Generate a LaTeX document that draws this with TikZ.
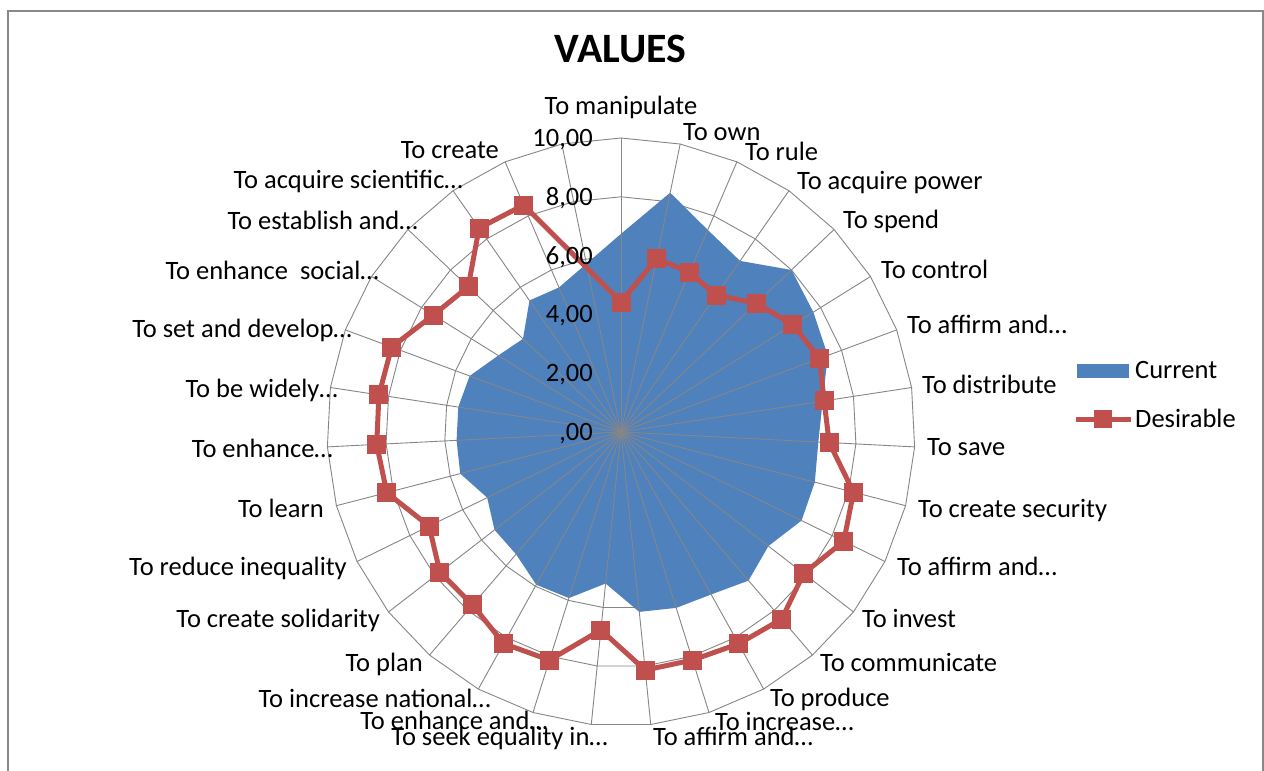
\documentclass[tikz,border=0pt]{standalone}
\usepackage{fontspec}
\setmainfont{Carlito}
\definecolor{curblue}{HTML}{4F81BD}
\definecolor{desred}{HTML}{C0504D}
\definecolor{gridgray}{HTML}{868686}
\definecolor{framegray}{HTML}{898989}
\tikzset{
  gridline/.style={draw=gridgray, line width=0.9pt},
  spoke/.style={draw=gridgray, line width=0.9pt},
  curfill/.style={fill=curblue},
  desline/.style={draw=desred, line width=5pt, line join=round},
  mk/.style={rectangle, fill=desred, minimum size=19pt, inner sep=0pt},
  lbl/.style={font=\fontsize{26.5}{30}\selectfont, inner sep=0pt, text=black},
  lblR/.style={lbl, anchor=base west},
  lblL/.style={lbl, anchor=base east},
  framebox/.style={draw=framegray, line width=2.5pt},
  titlestyle/.style={font=\fontsize{41.8}{46}\selectfont\bfseries, inner sep=0pt, anchor=base},
}
\begin{document}
\begin{tikzpicture}[x=1pt,y=1pt]
\useasboundingbox (0,0) rectangle (1264,-771);
\clip (0,0) rectangle (1264,-771);
\fill[white] (0,0) rectangle (1264,-771);
\draw[framebox] (8,-11) rectangle (1262.8,-800);

% title
\node[titlestyle] (title) at (620.5,-62) {VALUES};

\begin{scope}[shift={(621,-432)}]
  % rings
  \foreach \r in {58.8,117.6,176.4,235.2,294}{
    \draw[gridline] (90:\r) \foreach \k in {1,...,30}{ -- ({90-\k*360/31}:\r) } -- cycle;
  }
  % current series (filled)
  \fill[curfill] (90:6.74*29.4)
    \foreach \v [count=\k from 1] in {8.31,7.48,7.09,8.00,7.71,7.50,6.94,6.72,6.81,6.84,6.34,6.66,6.32,6.27,6.15,5.18,5.92,5.94,5.48,5.44,5.07,5.65,5.60,5.60,5.49,4.92,4.60,5.45,5.35}{ -- ({90-\k*360/31}:\v*29.4) } -- cycle;
  % spokes
  \foreach \k in {0,...,30}{
    \draw[spoke] (0,0) -- ({90-\k*360/31}:294);
  }
  % desirable series
  \draw[desline] (90:4.42*29.4)
    \foreach \v [count=\k from 1] in {6.02,5.91,5.67,6.36,6.89,7.20,6.99,7.09,8.17,8.44,7.86,8.39,8.24,8.13,8.14,6.77,8.13,8.23,7.75,7.79,7.27,8.23,8.32,8.33,8.32,7.52,7.17,8.45,8.40}{ -- ({90-\k*360/31}:\v*29.4) } -- cycle;
  \foreach \v [count=\k from 0] in {4.42,6.02,5.91,5.67,6.36,6.89,7.20,6.99,7.09,8.17,8.44,7.86,8.39,8.24,8.13,8.14,6.77,8.13,8.23,7.75,7.79,7.27,8.23,8.32,8.33,8.32,7.52,7.17,8.45,8.40}{
    \node[mk] (m\k) at ({90-\k*360/31}:\v*29.4) {};
  }
\end{scope}

% value axis labels
\node[lblL] (v0)  at (593,-440.5) {,00};
\node[lblL] (v2)  at (593,-381.7) {2,00};
\node[lblL] (v4)  at (593,-322.9) {4,00};
\node[lblL] (v6)  at (593,-264.1) {6,00};
\node[lblL] (v8)  at (593,-205.3) {8,00};
\node[lblL] (v10) at (593,-146.5) {10,00};

% category labels
\node[lbl, anchor=base] (c0) at (621,-114.5) {To manipulate};
\node[lblR] (c1)  at (683,-140.5) {To own};
\node[lblR] (c2)  at (745,-160.5) {To rule};
\node[lblR] (c3)  at (797,-189.5) {To acquire power};
\node[lblR] (c4)  at (843,-228.5) {To spend};
\node[lblR] (c5)  at (881,-278.5) {To control};
\node[lblR] (c6)  at (907,-333.5) {To affirm and…};
\node[lblR] (c7)  at (922,-393.5) {To distribute};
\node[lblR] (c8)  at (927,-455.5) {To save};
\node[lblR] (c9)  at (918,-517.5) {To create security};
\node[lblR] (c10) at (897,-575.5) {To affirm and…};
\node[lblR] (c11) at (862,-627.5) {To invest};
\node[lblR] (c12) at (820,-671.5) {To communicate};
\node[lblR] (c13) at (770,-706.5) {To produce};
\node[lblR] (c14) at (715,-730.5) {To increase…};
\node[lblR] (c15) at (653,-745.5) {To affirm and…};
\node[lblL] (c16) at (608,-745.5) {To seek equality in…};
\node[lblL] (c17) at (548,-729.5) {To enhance and…};
\node[lblL] (c18) at (491,-707.5) {To increase national…};
\node[lblL] (c19) at (423,-671.5) {To plan};
\node[lblL] (c20) at (380,-627.5) {To create solidarity};
\node[lblL] (c21) at (347,-575.5) {To reduce inequality};
\node[lblL] (c22) at (324,-517.5) {To learn};
\node[lblL] (c23) at (333,-457.5) {To enhance…};
\node[lblL] (c24) at (338,-397.5) {To be widely…};
\node[lblL] (c25) at (352,-337.5) {To set and develop…};
\node[lblL] (c26) at (379,-279.5) {To enhance~ social…};
\node[lblL] (c27) at (418,-229.5) {To establish and…};
\node[lblL] (c28) at (463,-188.5) {To acquire scientific…};
\node[lblL] (c29) at (499,-158.5) {To create};

% legend
\fill[curfill] (1077,-364) rectangle (1129,-378);
\node[lblR] (legcur) at (1135,-378) {Current};
\draw[desline, line cap=butt] (1076,-419) -- (1131,-419);
\node[mk, minimum size=18pt] (legmk) at (1103,-419) {};
\node[lblR] (legdes) at (1135,-427.3) {Desirable};
\end{tikzpicture}
\end{document}
